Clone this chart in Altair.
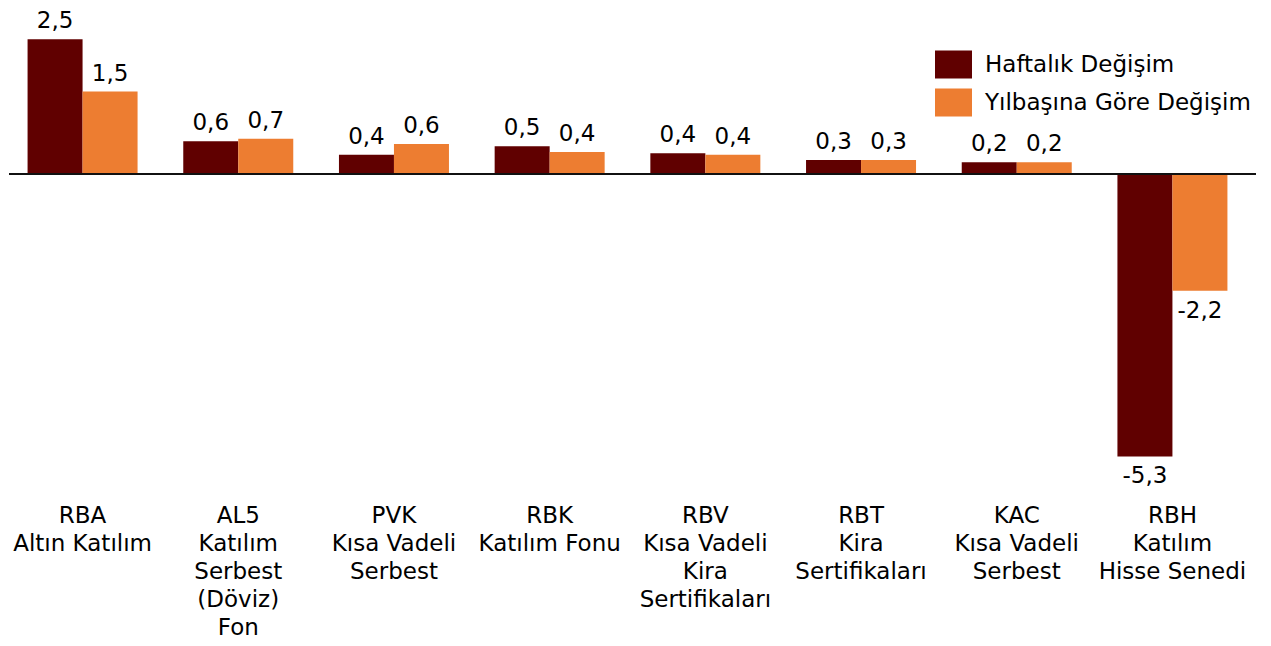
import altair as alt
import pandas as pd

names = [
    "RBA\nAltın Katılım",
    "AL5\nKatılım\nSerbest\n(Döviz)\nFon",
    "PVK\nKısa Vadeli\nSerbest",
    "RBK\nKatılım Fonu",
    "RBV\nKısa Vadeli\nKira\nSertifikaları",
    "RBT\nKira\nSertifikaları",
    "KAC\nKısa Vadeli\nSerbest",
    "RBH\nKatılım\nHisse Senedi",
]
series = ["Haftalık Değişim", "Yılbaşına Göre Değişim"]
weekly = [2.52, 0.61, 0.36, 0.52, 0.39, 0.26, 0.22, -5.28]
ytd = [1.54, 0.66, 0.56, 0.41, 0.36, 0.26, 0.22, -2.18]
colors = ["#600000", "#ED7D31"]

rows = []
for n, w, y in zip(names, weekly, ytd):
    rows.append({"cat": n, "series": series[0], "v": w})
    rows.append({"cat": n, "series": series[1], "v": y})
df = pd.DataFrame(rows)

FONT = "DejaVu Sans"
FS = 23
W, H = 1231, 471

x = alt.X("cat:N", sort=names, title=None,
          scale=alt.Scale(paddingInner=0.2935, paddingOuter=0.1),
          axis=alt.Axis(domain=False, ticks=False, labelAngle=0, labelPadding=25,
                        labelFont=FONT, labelFontSize=FS, labelColor="#000000",
                        labelLineHeight=28, labelBaseline="top", labelLimit=300,
                        labelExpr="split(datum.label, '\\n')"))
xo = alt.XOffset("series:N", sort=series, scale=alt.Scale(paddingInner=0, paddingOuter=0))
yscale = alt.Scale(domain=[-5.701, 3.103], nice=False, zero=False)
color = alt.Color("series:N", sort=series,
                  scale=alt.Scale(domain=series, range=colors),
                  legend=alt.Legend(title=None, orient="none", legendX=923, legendY=38,
                                    symbolType="M-1,-0.757H1V0.757H-1Z", symbolSize=1369,
                                    symbolStrokeWidth=0, rowPadding=5, labelOffset=13,
                                    labelFont=FONT, labelFontSize=FS, labelColor="#000000",
                                    labelLimit=400))

base = alt.Chart(df).encode(x=x, xOffset=xo)

bars = base.mark_bar().encode(
    y=alt.Y("v:Q", scale=yscale, axis=None), color=color)

lab = base.transform_calculate(
    t="replace(replace(format(datum.v, '.1f'), '.', ','), '\u2212', '-')")
pos = lab.transform_filter("datum.v >= 0").mark_text(
    baseline="alphabetic", dy=-11, font=FONT, fontSize=FS, color="#000000"
).encode(y=alt.Y("v:Q", scale=yscale), text="t:N")
neg = lab.transform_filter("datum.v < 0").mark_text(
    baseline="alphabetic", dy=27, font=FONT, fontSize=FS, color="#000000"
).encode(y=alt.Y("v:Q", scale=yscale), text="t:N")

zero = alt.Chart(pd.DataFrame({"z": [0]})).mark_rule(color="#111111", strokeWidth=2).encode(
    y=alt.Y("z:Q", scale=yscale), x=alt.value(-3), x2=alt.value(1244))

chart = (bars + pos + neg + zero).properties(
    width=W, height=H, padding=0
).configure_view(stroke=None, strokeWidth=0)

chart.save("out.html", embed_options={"renderer": "svg", "actions": False})
